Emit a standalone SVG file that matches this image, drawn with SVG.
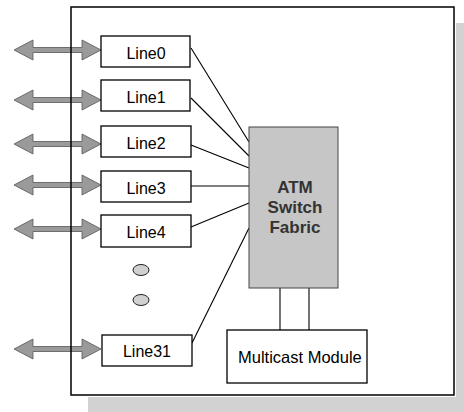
<svg xmlns="http://www.w3.org/2000/svg" width="464" height="412" viewBox="0 0 464 412">
<style>
.lbl{font-family:"Liberation Sans",Arial,sans-serif;font-size:16px;fill:#000;text-anchor:middle}
.box{fill:#fff;stroke:#000;stroke-width:1.3}
.conn{stroke:#000;stroke-width:1.1;fill:none}
.arr{fill:#9a9a9a;stroke:#555;stroke-width:0.8}
.shadow{fill:#d2d2d2}
.atmtxt{font-family:"Liberation Sans",Arial,sans-serif;font-size:17px;fill:#333;text-anchor:middle;font-weight:bold}
.dot{fill:#d0d0d0;stroke:#222;stroke-width:1}
</style>
<defs>
<path id="dblarrow" class="arr" d="M14,0 L33,-10 L33,-2.5 L82,-2.5 L82,-10 L101,0 L82,10 L82,2.5 L33,2.5 L33,10 Z"/>
</defs>
<g id="frame">
<rect class="shadow" x="456" y="23" width="8" height="389"/>
<rect class="shadow" x="88" y="397" width="376" height="15"/>
<rect x="71" y="7" width="383" height="388" fill="#fff"/>
</g>
<g id="arrows">
<use href="#dblarrow" y="50"/>
<use href="#dblarrow" y="100"/>
<use href="#dblarrow" y="144"/>
<use href="#dblarrow" y="185"/>
<use href="#dblarrow" y="229"/>
<use href="#dblarrow" y="349"/>
</g>
<rect x="71" y="7" width="383" height="388" fill="none" stroke="#000" stroke-width="1.5"/>
<g id="connectors">
<line class="conn" x1="191" y1="48" x2="249" y2="142"/>
<line class="conn" x1="191" y1="98" x2="249" y2="156"/>
<line class="conn" x1="191" y1="145" x2="249" y2="168"/>
<line class="conn" x1="191" y1="186" x2="249" y2="186"/>
<line class="conn" x1="191" y1="227" x2="249" y2="203"/>
<line class="conn" x1="192" y1="343" x2="249" y2="228"/>
<line class="conn" x1="280" y1="288" x2="280" y2="330"/>
<line class="conn" x1="309" y1="288" x2="309" y2="330"/>
</g>
<g id="line0"><rect class="box" x="101" y="36" width="89" height="31"/><text class="lbl" x="146" y="59">Line0</text></g>
<g id="line1"><rect class="box" x="101" y="80" width="89" height="31"/><text class="lbl" x="146" y="103">Line1</text></g>
<g id="line2"><rect class="box" x="101" y="126" width="90" height="31"/><text class="lbl" x="146" y="149">Line2</text></g>
<g id="line3"><rect class="box" x="101" y="171" width="90" height="31"/><text class="lbl" x="146" y="194">Line3</text></g>
<g id="line4"><rect class="box" x="101" y="215" width="90" height="32"/><text class="lbl" x="146" y="238">Line4</text></g>
<g id="dots">
<ellipse class="dot" cx="141" cy="270" rx="8" ry="5.5"/>
<ellipse class="dot" cx="141" cy="300" rx="8" ry="5.5"/>
</g>
<g id="line31"><rect class="box" x="102" y="335" width="90" height="31"/><text class="lbl" x="147" y="357">Line31</text></g>
<g id="atm">
<rect x="249" y="127" width="89" height="161" fill="#c6c6c6" stroke="#444" stroke-width="1"/>
<text class="atmtxt" x="295" y="193">ATM</text>
<text class="atmtxt" x="295" y="213">Switch</text>
<text class="atmtxt" x="295" y="233">Fabric</text>
</g>
<g id="multicast">
<rect class="box" x="227" y="330" width="140" height="53"/>
<text x="238" y="363" font-family="'Liberation Sans',Arial,sans-serif" font-size="16.5" fill="#000">Multicast Module</text>
</g>
</svg>
